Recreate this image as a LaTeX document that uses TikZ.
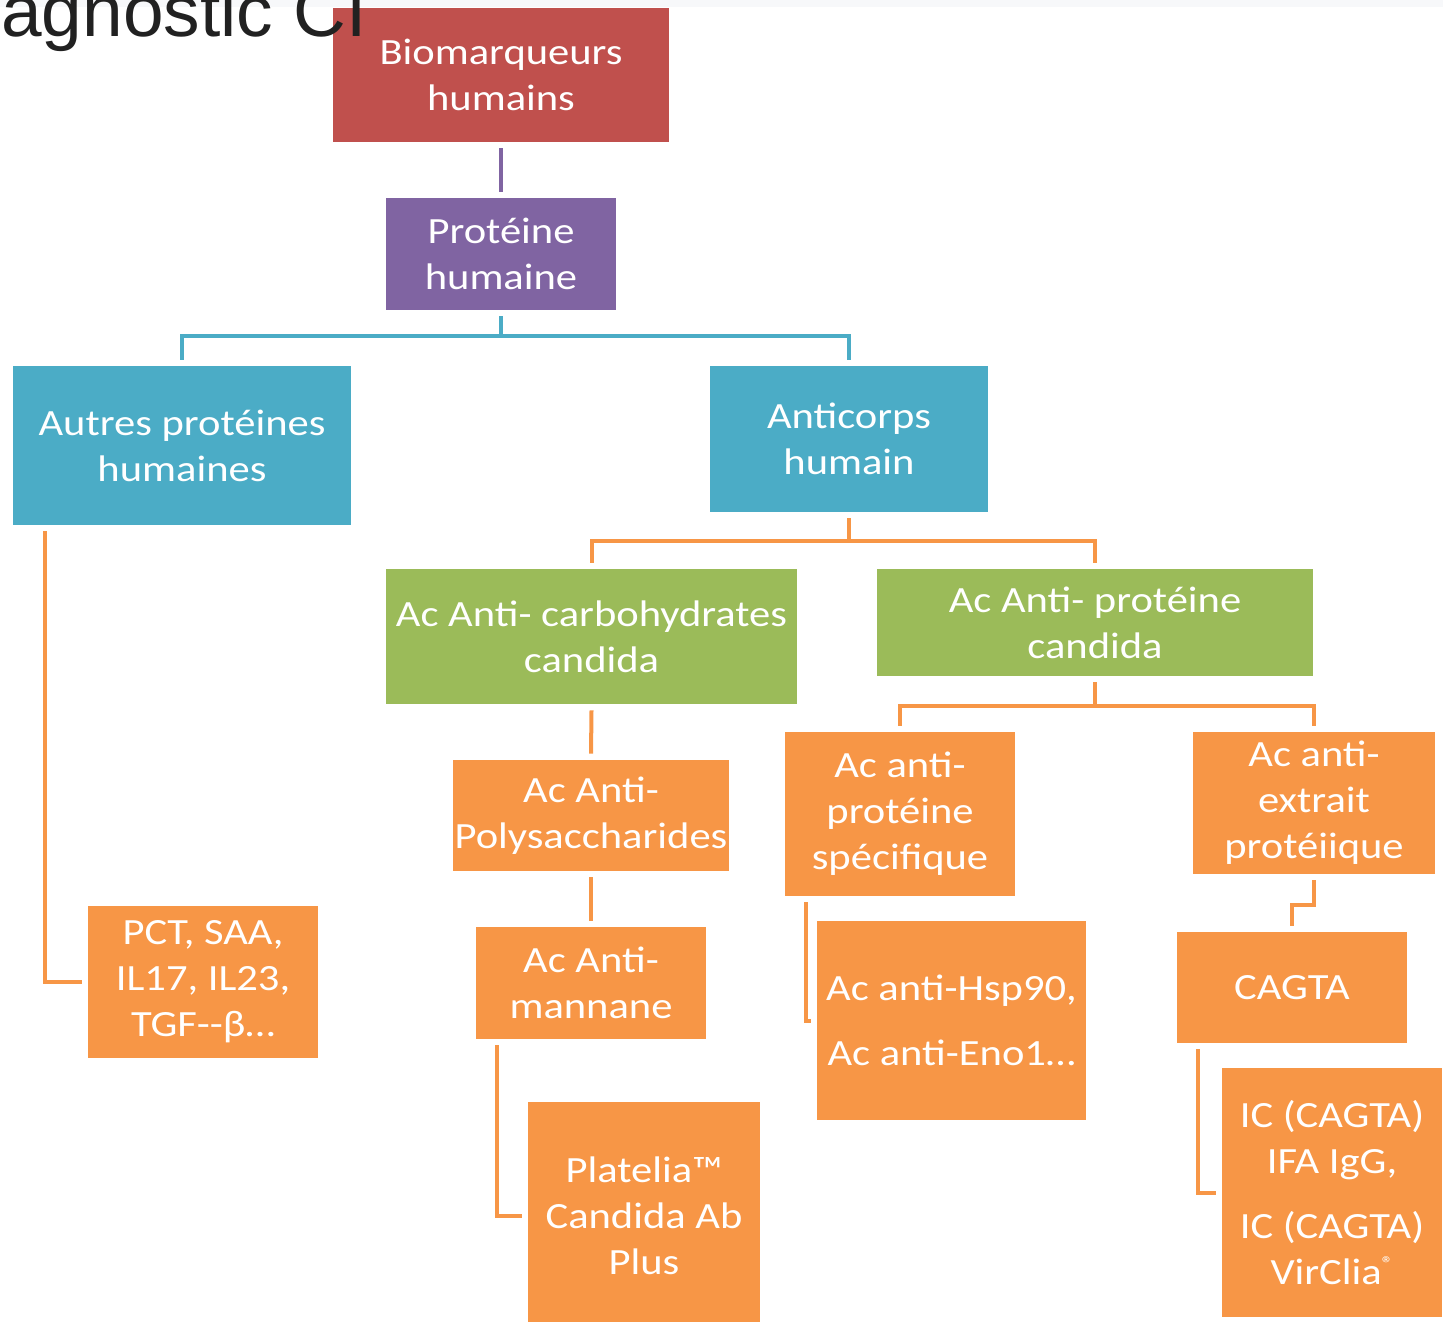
\documentclass[tikz,border=0pt]{standalone}
\usepackage{fontspec}
\setmainfont{Carlito}[FakeStretch=1.15]
\newfontfamily\titrefont{Liberation Sans}
\usetikzlibrary{calc}
\definecolor{rouge}{HTML}{C0504D}
\definecolor{violet}{HTML}{8064A2}
\definecolor{bleu}{HTML}{4BACC6}
\definecolor{vert}{HTML}{9BBB59}
\definecolor{orange}{HTML}{F79646}
\definecolor{bandeau}{HTML}{F7F8FA}
\tikzset{
    boite/.style={inner sep=0pt, text=white, align=center, font=\fontsize{18.5}{23}\selectfont},
    lien/.style={line width=2pt},
    lienviolet/.style={lien, draw=violet},
    lienbleu/.style={lien, draw=bleu},
    lienorange/.style={lien, draw=orange}
}

\begin{document}
\begin{tikzpicture}[x=0.5pt, y=-0.5pt]
    % Cadre de la page
    \clip (0,0) rectangle (1443,1321);
    \fill[bandeau] (0,0) rectangle (1443,7);

    % Niveau 1 et 2
    \node[boite, fill=rouge, minimum width=168pt, minimum height=67pt] (bio) at (501,75) {Biomarqueurs\\humains};
    \node[boite, fill=violet, minimum width=115pt, minimum height=56pt] (prot) at (501,254) {Protéine\\humaine};

    % Niveau 3
    \node[boite, fill=bleu, minimum width=169pt, minimum height=79.5pt] (autres) at (182,445.5) {Autres protéines\\humaines};
    \node[boite, fill=bleu, minimum width=139pt, minimum height=73pt] (anticorps) at (849,439) {Anticorps\\humain};

    % Anticorps : carbohydrates / protéines
    \node[boite, fill=vert, minimum width=205.5pt, minimum height=67.5pt] (carbo) at (591.5,636.5) {Ac Anti- carbohydrates\\candida};
    \node[boite, fill=vert, minimum width=218pt, minimum height=53.5pt] (protcand) at (1095,622.5) {Ac Anti- protéine\\candida};

    % Feuilles
    \node[boite, fill=orange, minimum width=115pt, minimum height=76pt] (pct) at (203,982) {PCT, SAA,\\IL17, IL23,\\TGF-{}-β…};
    \node[boite, fill=orange, minimum width=138pt, minimum height=55.5pt] (poly) at (591,815.5) {Ac Anti-\\Polysaccharides};
    \node[boite, fill=orange, minimum width=115pt, minimum height=56pt] (mannane) at (591,983) {Ac Anti-\\mannane};
    \node[boite, fill=orange, minimum width=116pt, minimum height=114pt] (platelia) at (644,1216) {Platelia™\\Candida Ab\\Plus};
    \node[boite, fill=orange, minimum width=115pt, minimum height=82pt] (specif) at (900,814) {Ac anti-\\protéine\\spécifique};
    \node[boite, fill=orange, minimum width=121pt, minimum height=71pt] (extrait) at (1314,803) {Ac anti-\\extrait\\protéiique};
    \node[boite, fill=orange, minimum width=134.5pt, minimum height=99.5pt] (hsp) at (951.5,1020.5) {Ac anti-Hsp90,\\[9.5pt]Ac anti-Eno1…};
    \node[boite, fill=orange, minimum width=115pt, minimum height=55.5pt] (cagta) at (1292,987.5) {CAGTA};
    \node[boite, fill=orange, minimum width=110pt, minimum height=124.5pt] (ic) at (1332,1192.5) {IC (CAGTA)\\IFA IgG,\\[9.5pt]IC (CAGTA)\\VirClia{\fontsize{10}{10}\selectfont\raisebox{7pt}{®}}};

    % Liaisons
    \draw[lienviolet] ($(bio.south)+(0,6)$) -- ($(prot.north)+(0,-6)$);
    \draw[lienbleu] ($(prot.south)+(0,6)$) |- ($(autres.north)+(0,-30)$) -- ($(autres.north)+(0,-6)$);
    \draw[lienbleu] ($(prot.south)+(0,6)$) |- ($(anticorps.north)+(0,-30)$) -- ($(anticorps.north)+(0,-6)$);
    \draw[lienorange] ($(anticorps.south)+(0,6)$) |- ($(carbo.north)+(0,-28)$) -- ($(carbo.north)+(0,-6)$);
    \draw[lienorange] ($(anticorps.south)+(0,6)$) |- ($(protcand.north)+(0,-28)$) -- ($(protcand.north)+(0,-6)$);
    \draw[lienorange] ($(protcand.south)+(0,6)$) |- ($(specif.north)+(0,-26)$) -- ($(specif.north)+(0,-6)$);
    \draw[lienorange] ($(protcand.south)+(0,6)$) |- ($(extrait.north)+(0,-26)$) -- ($(extrait.north)+(0,-6)$);
    \draw[lienorange] ($(autres.south west)+(32,6)$) |- ($(pct.west)+(-6,0)$);
    \draw[lienorange] ($(carbo.south)+(0,6)$) -- ($(poly.north)+(0,-6)$);
    \draw[lienorange] ($(poly.south)+(0,6)$) -- ($(mannane.north)+(0,-6)$);
    \draw[lienorange] ($(mannane.south west)+(21,6)$) |- ($(platelia.west)+(-6,0)$);
    \draw[lienorange] ($(specif.south west)+(21,6)$) |- ($(hsp.west)+(-6,0)$);
    \draw[lienorange] ($(extrait.south)+(0,6)$) -- ++(0,25) -| ($(cagta.north)+(0,-6)$);
    \draw[lienorange] ($(cagta.south west)+(21,6)$) |- ($(ic.west)+(-6,0)$);

    % Titre coupé de la diapositive
    \node[anchor=base west, inner sep=0pt, text=black!87, font=\titrefont\fontsize{36.5}{36}\selectfont] (titre) at (1,37) {agnostic CI};
\end{tikzpicture}
\end{document}
